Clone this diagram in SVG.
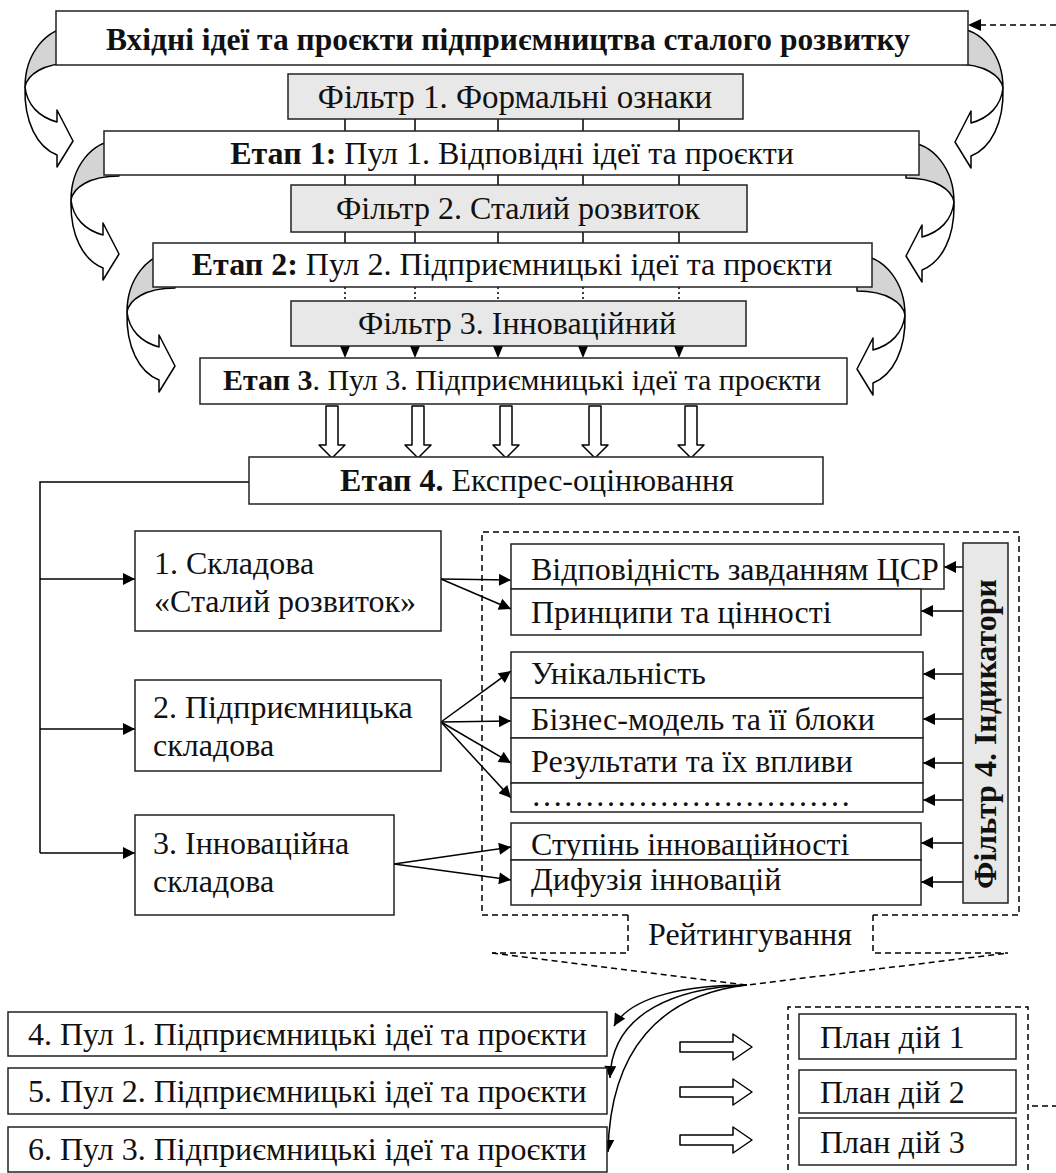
<svg xmlns="http://www.w3.org/2000/svg" xmlns:xlink="http://www.w3.org/1999/xlink" width="1056" height="1173" viewBox="0 0 1056 1173">
<style>
.box{fill:#fff;stroke:#222;stroke-width:1.5}
.flt{fill:#e8e8e8;stroke:#222;stroke-width:1.5}
.t{font-family:"Liberation Serif","Times New Roman",serif;font-size:32px;fill:#111}
.c{text-anchor:middle}
.b{font-weight:bold}
.ln{fill:none;stroke:#000;stroke-width:1.5}
.dash{fill:none;stroke:#000;stroke-width:1.5;stroke-dasharray:6 4}
.dot{fill:none;stroke:#000;stroke-width:1.5;stroke-dasharray:2 3}
.ga{fill:#d4d4d4;stroke:#000;stroke-width:1.5;stroke-linejoin:round}
.wa{fill:#fff;stroke:#000;stroke-width:1.5;stroke-linejoin:round}
</style>
<defs>
<marker id="ah" viewBox="0 0 10 10" refX="10" refY="5" markerWidth="14" markerHeight="12" markerUnits="userSpaceOnUse" orient="auto">
<path d="M0,0 L10,5 L0,10 Z" fill="#000"/>
</marker>
<g id="carrow">
<path class="ga" d="M0,0 C-28,1 -48,28 -48,60 C-46,48 -30,36 0,36 Z"/>
<path class="wa" d="M-48,60 C-49,95 -36,120 -16,128 L-16,140 L0,114 L-16,83 L-16,95 C-34,90 -46,78 -48,60 Z"/>
</g>
<path id="barrowD" class="wa" d="M-6,0 L6,0 L6,39 L13,39 L0,52 L-13,39 L-6,39 Z"/>
<path id="barrowR" class="wa" d="M0,-5 L53,-5 L53,-13 L72,0 L53,13 L53,5 L0,5 Z"/>
</defs>

<g id="connectors">
<path class="ln" d="M345,119 V131 M415,119 V131 M498,119 V131 M583,119 V131 M679,119 V131"/>
<path class="ln" d="M345,175 V185 M415,175 V185 M498,175 V185 M583,175 V185 M679,175 V185"/>
<path class="ln" d="M345,232 V243 M415,232 V243 M498,232 V243 M583,232 V243 M679,232 V243"/>
<path class="dot" d="M345,287 V301 M415,287 V301 M498,287 V301 M583,287 V301 M679,287 V301"/>
<g fill="#000">
<path d="M340,346 L350,346 L345,358 Z"/><path d="M410,346 L420,346 L415,358 Z"/><path d="M493,346 L503,346 L498,358 Z"/><path d="M578,346 L588,346 L583,358 Z"/><path d="M674,346 L684,346 L679,358 Z"/>
</g>
<use xlink:href="#barrowD" href="#barrowD" transform="translate(332,406)"/>
<use xlink:href="#barrowD" href="#barrowD" transform="translate(418,406)"/>
<use xlink:href="#barrowD" href="#barrowD" transform="translate(506,406)"/>
<use xlink:href="#barrowD" href="#barrowD" transform="translate(595,406)"/>
<use xlink:href="#barrowD" href="#barrowD" transform="translate(691,406)"/>
<use xlink:href="#carrow" href="#carrow" transform="translate(73,27)"/>
<use xlink:href="#carrow" href="#carrow" transform="translate(119,140)"/>
<use xlink:href="#carrow" href="#carrow" transform="translate(175,252)"/>
<use xlink:href="#carrow" href="#carrow" transform="translate(955,28) scale(-1,1)"/>
<use xlink:href="#carrow" href="#carrow" transform="translate(906,142) scale(-1,1)"/>
<use xlink:href="#carrow" href="#carrow" transform="translate(857,255) scale(-1,1)"/>
<path class="dash" d="M1056,25 H980" />
<path d="M968,25 L981,19 L981,31 Z" fill="#000"/>
<path class="ln" d="M249,482 H40 V853"/>
<path class="ln" d="M40,579 H135" marker-end="url(#ah)"/>
<path class="ln" d="M40,729 H135" marker-end="url(#ah)"/>
<path class="ln" d="M40,853 H135" marker-end="url(#ah)"/>
<path class="ln" d="M441,579 L511,580" marker-end="url(#ah)"/>
<path class="ln" d="M441,579 L511,609" marker-end="url(#ah)"/>
<path class="ln" d="M441,722 L511,671" marker-end="url(#ah)"/>
<path class="ln" d="M441,722 L511,721" marker-end="url(#ah)"/>
<path class="ln" d="M441,722 L511,763" marker-end="url(#ah)"/>
<path class="ln" d="M441,722 L511,798" marker-end="url(#ah)"/>
<path class="ln" d="M394,864 L511,847" marker-end="url(#ah)"/>
<path class="ln" d="M394,864 L511,880" marker-end="url(#ah)"/>
<path class="ln" d="M963,567 H944" marker-end="url(#ah)"/>
<path class="ln" d="M963,611 H921" marker-end="url(#ah)"/>
<path class="ln" d="M963,674 H923" marker-end="url(#ah)"/>
<path class="ln" d="M963,719 H923" marker-end="url(#ah)"/>
<path class="ln" d="M963,763 H923" marker-end="url(#ah)"/>
<path class="ln" d="M963,800 H923" marker-end="url(#ah)"/>
<path class="ln" d="M963,843 H921" marker-end="url(#ah)"/>
<path class="ln" d="M963,882 H921" marker-end="url(#ah)"/>
<path class="dash" d="M628,915 H482 V532 H1019 V915 H873"/>
<path class="dash" d="M628,915 V953 H492 M873,915 V953 H1008"/>
<path class="dash" d="M492,953 L747,985 L1008,953"/>
<path class="ln" d="M747,985 C690,985 632,995 614,1026" marker-end="url(#ah)"/>
<path class="ln" d="M747,985 C680,988 612,1010 610,1078" marker-end="url(#ah)"/>
<path class="ln" d="M747,985 C660,995 610,1050 608,1152" marker-end="url(#ah)"/>
<use xlink:href="#barrowR" href="#barrowR" transform="translate(680,1047)"/>
<use xlink:href="#barrowR" href="#barrowR" transform="translate(680,1092)"/>
<use xlink:href="#barrowR" href="#barrowR" transform="translate(680,1140)"/>
<path class="dash" d="M788,1180 V1007 H1028 V1180"/>
<path class="dash" d="M1032,1106 H1056"/>
</g>

<g id="n-input">
<rect class="box" x="56" y="11" width="912" height="54"/>
<text class="t c b" x="508" y="50" style="font-size:31.5px">Вхідні ідеї та проєкти підприємництва сталого розвитку</text>
</g>
<g id="n-filter1">
<rect class="flt" x="288" y="74" width="455" height="45"/>
<text class="t c" x="515" y="108" style="font-size:33px">Фільтр 1. Формальні ознаки</text>
</g>
<g id="n-stage1">
<rect class="box" x="104" y="131" width="815" height="44"/>
<text class="t c" x="512" y="164"><tspan class="b">Етап 1:</tspan> Пул 1. Відповідні ідеї та проєкти</text>
</g>
<g id="n-filter2">
<rect class="flt" x="291" y="185" width="456" height="47"/>
<text class="t c" x="518" y="219">Фільтр 2. Сталий розвиток</text>
</g>
<g id="n-stage2">
<rect class="box" x="153" y="243" width="719" height="44"/>
<text class="t c" x="512" y="275"><tspan class="b">Етап 2:</tspan> Пул 2. Підприємницькі ідеї та проєкти</text>
</g>
<g id="n-filter3">
<rect class="flt" x="291" y="301" width="455" height="45"/>
<text class="t c" x="517" y="334">Фільтр 3. Інноваційний</text>
</g>
<g id="n-stage3">
<rect class="box" x="200" y="358" width="647" height="46"/>
<text class="t c" x="522" y="390" style="font-size:30px"><tspan class="b">Етап 3</tspan>. Пул 3. Підприємницькі ідеї та проєкти</text>
</g>
<g id="n-stage4">
<rect class="box" x="249" y="457" width="574" height="47"/>
<text class="t c" x="537" y="491"><tspan class="b">Етап 4.</tspan> Експрес-оцінювання</text>
</g>
<g id="n-comp1">
<rect class="box" x="135" y="531" width="306" height="100"/>
<text class="t" x="154" y="574">1. Складова</text>
<text class="t" x="154" y="612">«Сталий розвиток»</text>
</g>
<g id="n-comp2">
<rect class="box" x="135" y="680" width="306" height="91"/>
<text class="t" x="153" y="718">2. Підприємницька</text>
<text class="t" x="153" y="756">складова</text>
</g>
<g id="n-comp3">
<rect class="box" x="135" y="815" width="259" height="100"/>
<text class="t" x="153" y="854">3. Інноваційна</text>
<text class="t" x="153" y="892">складова</text>
</g>
<g id="n-ind1">
<rect class="box" x="511" y="544" width="433" height="45"/>
<text class="t" x="531" y="580">Відповідність завданням ЦСР</text>
</g>
<g id="n-ind2">
<rect class="box" x="511" y="589" width="410" height="46"/>
<text class="t" x="531" y="623">Принципи та цінності</text>
</g>
<g id="n-ind3">
<rect class="box" x="511" y="652" width="412" height="46"/>
<text class="t" x="531" y="684">Унікальність</text>
</g>
<g id="n-ind4">
<rect class="box" x="511" y="698" width="412" height="40"/>
<text class="t" x="531" y="730">Бізнес-модель та її блоки</text>
</g>
<g id="n-ind5">
<rect class="box" x="511" y="738" width="412" height="45"/>
<text class="t" x="531" y="772">Результати та їх впливи</text>
</g>
<g id="n-ind6">
<rect class="box" x="511" y="783" width="412" height="29"/>
<text class="t" x="531" y="806">…………………………</text>
</g>
<g id="n-ind7">
<rect class="box" x="511" y="823" width="410" height="37"/>
<text class="t" x="531" y="855">Ступінь інноваційності</text>
</g>
<g id="n-ind8">
<rect class="box" x="511" y="860" width="410" height="45"/>
<text class="t" x="531" y="890">Дифузія інновацій</text>
</g>
<g id="n-filter4">
<rect class="flt" x="963" y="543" width="45" height="360"/>
<text class="t c b" transform="translate(996,734) rotate(-90)">Фільтр 4. Індикатори</text>
</g>
<g id="n-rating">
<text class="t" x="648" y="945">Рейтингування</text>
</g>
<g id="n-pool1">
<rect class="box" x="8" y="1012" width="599" height="44"/>
<text class="t" x="28" y="1045">4. Пул 1. Підприємницькі ідеї та проєкти</text>
</g>
<g id="n-pool2">
<rect class="box" x="8" y="1068" width="599" height="46"/>
<text class="t" x="28" y="1102">5. Пул 2. Підприємницькі ідеї та проєкти</text>
</g>
<g id="n-pool3">
<rect class="box" x="8" y="1127" width="599" height="45"/>
<text class="t" x="28" y="1160">6. Пул 3. Підприємницькі ідеї та проєкти</text>
</g>
<g id="n-plan1">
<rect class="box" x="799" y="1014" width="217" height="45"/>
<text class="t" x="820" y="1048">План дій 1</text>
</g>
<g id="n-plan2">
<rect class="box" x="799" y="1070" width="217" height="43"/>
<text class="t" x="820" y="1103">План дій 2</text>
</g>
<g id="n-plan3">
<rect class="box" x="799" y="1118" width="217" height="47"/>
<text class="t" x="820" y="1153">План дій 3</text>
</g>
</svg>
